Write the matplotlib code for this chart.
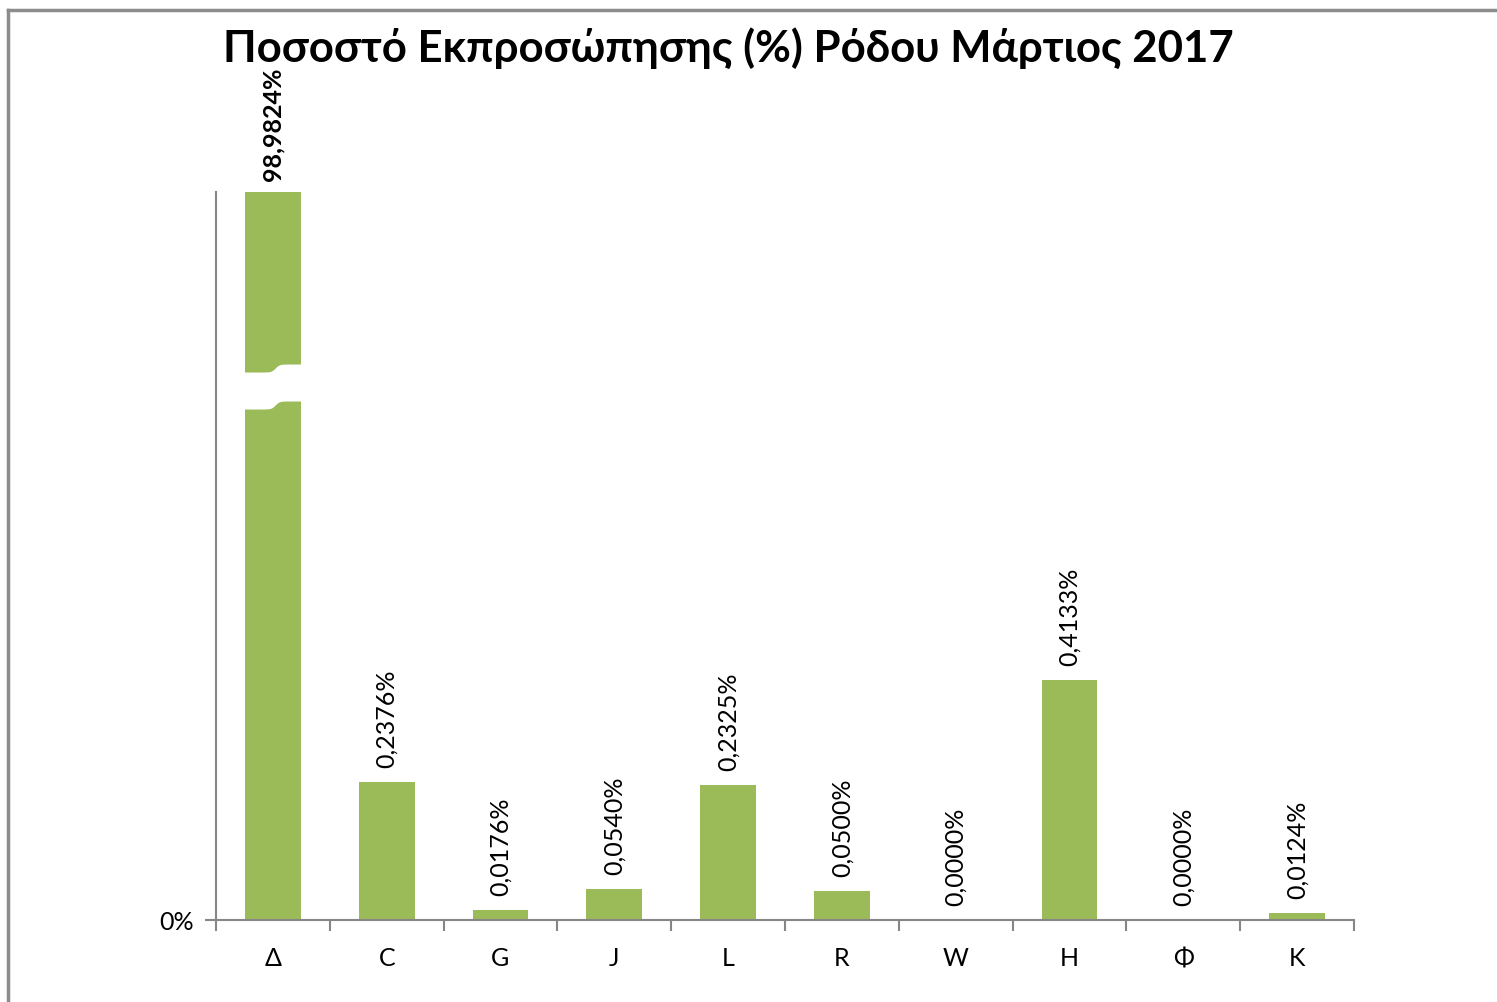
import numpy as np
import matplotlib.pyplot as plt
import matplotlib.transforms as mtransforms

categories = ["Δ", "C", "G", "J", "L", "R", "W", "H", "Φ", "K"]
values = [98.9824, 0.2376, 0.0176, 0.0540, 0.2325, 0.0500, 0.0000, 0.4133, 0.0000, 0.0124]
labels = ["98,9824%", "0,2376%", "0,0176%", "0,0540%", "0,2325%",
          "0,0500%", "0,0000%", "0,4133%", "0,0000%", "0,0124%"]
title = "Ποσοστό Εκπροσώπησης (%) Ρόδου Μάρτιος 2017"

Y_MAX = 1.2537
BAR_COLOR = "#9BBB59"
AXIS_COLOR = "#868686"

plt.rcParams["font.family"] = ["Lato", "DejaVu Sans"]


def main():
    fig = plt.figure(figsize=(14.97, 10.03), dpi=100)
    ax = fig.add_axes([216 / 1497, 82 / 1003, 1138 / 1497, 728 / 1003])

    x = np.arange(len(categories))
    shown = [min(v, Y_MAX) for v in values]
    bars = ax.bar(x, shown, width=0.49, color=BAR_COLOR, zorder=2)

    ax.set_xlim(-0.5, len(categories) - 0.5)
    ax.set_ylim(0, Y_MAX)

    # data labels, the clipped one in bold
    for i, (bar, lab) in enumerate(zip(bars, labels)):
        clipped = values[i] > Y_MAX
        ax.annotate(lab, (bar.get_x() + bar.get_width() / 2, bar.get_height()),
                    xytext=(0, 12 if clipped else 15), textcoords="offset pixels",
                    rotation=90, ha="center", va="bottom", fontsize=18,
                    fontweight="bold" if clipped else "normal",
                    annotation_clip=False)

    # break mark on the clipped bar
    trans = mtransforms.blended_transform_factory(ax.transData, ax.transAxes)
    for i, v in enumerate(values):
        if v <= Y_MAX:
            continue
        b = bars[i]
        xs = np.linspace(b.get_x() - 0.01, b.get_x() + b.get_width() + 0.01, 200)
        c = b.get_x() + b.get_width() / 2 + 0.02
        s = 0.5 + 0.5 * np.tanh((xs - c) / 0.035)
        top = 0.7527 + (0.7637 - 0.7527) * s
        bot = 0.7019 + (0.7129 - 0.7019) * s
        ax.fill_between(xs, bot, top, color="white", transform=trans,
                        zorder=3, linewidth=0)

    for side in ["top", "right"]:
        ax.spines[side].set_visible(False)
    for side in ["left", "bottom"]:
        ax.spines[side].set_color(AXIS_COLOR)
        ax.spines[side].set_linewidth(1.5)

    ax.set_yticks([0])
    ax.set_yticklabels(["0%"], fontsize=18)
    ax.tick_params(axis="y", length=8, width=1.5, color=AXIS_COLOR, pad=8)

    ax.set_xticks(np.arange(-0.5, len(categories), 1.0))
    ax.set_xticklabels([])
    ax.set_xticks(x, minor=True)
    ax.set_xticklabels(categories, minor=True, fontsize=18)
    ax.tick_params(axis="x", which="major", length=8, width=1.5, color=AXIS_COLOR)
    ax.tick_params(axis="x", which="minor", length=0, pad=19)

    fig.text(728 / 1497, 1 - 48 / 1003, title, ha="center", va="center",
             fontsize=31.5, fontweight="bold")

    # chart area border (top and left visible)
    fig.add_artist(plt.Line2D([8 / 1497, 8 / 1497], [0, 1 - 11 / 1003],
                              color="#8c8c8c", linewidth=2.5,
                              transform=fig.transFigure))
    fig.add_artist(plt.Line2D([8 / 1497, 1], [1 - 11 / 1003, 1 - 11 / 1003],
                              color="#8c8c8c", linewidth=2.5,
                              transform=fig.transFigure))

    fig.savefig("out.png", dpi=100)


if __name__ == "__main__":
    main()
